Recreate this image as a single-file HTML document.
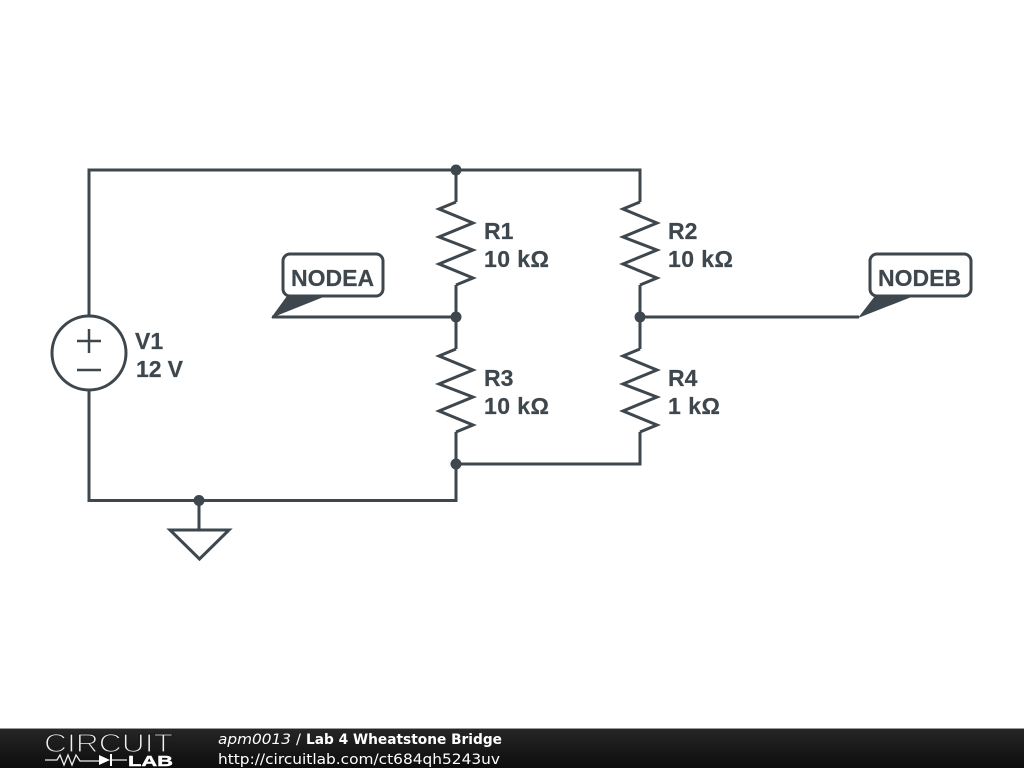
<!DOCTYPE html>
<html><head><meta charset="utf-8"><style>
html,body{margin:0;padding:0;background:#fff;width:1024px;height:768px;overflow:hidden}
svg{display:block}
.w{fill:none;stroke:#3d474d;stroke-width:3;stroke-linejoin:miter;stroke-linecap:butt}
.t{font:bold 23px "Liberation Sans",sans-serif;fill:#3d474d;stroke:#3d474d;stroke-width:.2}
.f{font:14.6px "DejaVu Sans",sans-serif;fill:#fff}
</style></head><body>
<svg width="1024" height="768" viewBox="0 0 1024 768" xmlns="http://www.w3.org/2000/svg">
<defs><linearGradient id="g" x1="0" y1="0" x2="0" y2="1"><stop offset="0" stop-color="#262626"/><stop offset="1" stop-color="#0c0c0c"/></linearGradient></defs>
<rect width="1024" height="768" fill="#fff"/>
<path class="w" d="M89 316V170H640V202M89 390V500.500H456V464M456 170V202M456 285V349M456 432V464H640V432M640 285V349M272 317H456M640 317H859M199 500V530"/>
<circle class="w" cx="89" cy="353" r="37"/>
<path class="w" style="stroke-width:2.5" d="M89 329V353M77 341H101M77 370H101"/>
<path class="w" d="M456 202L439 209L473 223L439 237L473 250L439 264L473 278L456 285"/>
<path class="w" d="M640 202L623 209L657 223L623 237L657 250L623 264L657 278L640 285"/>
<path class="w" d="M456 349L439 356L473 370L439 384L473 397L439 411L473 425L456 432"/>
<path class="w" d="M640 349L623 356L657 370L623 384L657 397L623 411L657 425L640 432"/>
<path class="w" stroke-linejoin="round" d="M170 530H229L199.500 559Z"/>
<g fill="#3d474d"><circle cx="456" cy="170" r="5.500"/><circle cx="456" cy="317" r="5.500"/><circle cx="640" cy="317" r="5.500"/><circle cx="456" cy="464" r="5.500"/><circle cx="199" cy="500.500" r="5.500"/>
<path d="M271 318L287 296H326ZM858 318L875 296H914Z"/></g>
<rect class="w" x="283" y="254" width="100" height="42" rx="7"/>
<rect class="w" x="870" y="254" width="101" height="42" rx="7"/>
<text class="t" x="291" y="286">NODEA</text>
<text class="t" x="878" y="286">NODEB</text>
<text class="t" x="484" y="239">R1</text><text class="t" x="484" y="267" textLength="65">10 kΩ</text>
<text class="t" x="668" y="239">R2</text><text class="t" x="668" y="267" textLength="65">10 kΩ</text>
<text class="t" x="484" y="386">R3</text><text class="t" x="484" y="414" textLength="65">10 kΩ</text>
<text class="t" x="668" y="386">R4</text><text class="t" x="668" y="414" textLength="52">1 kΩ</text>
<text class="t" x="135" y="349">V1</text><text class="t" x="136" y="377" textLength="47">12 V</text>
<rect y="728" width="1024" height="1" fill="#999"/>
<rect y="729" width="1024" height="39" fill="url(#g)"/>
<text x="44" y="752" font-family="Liberation Sans,sans-serif" font-size="26" fill="#f2f2f2" stroke="#1c1c1c" stroke-width="1.200" textLength="129" lengthAdjust="spacingAndGlyphs">CIRCUIT</text>
<path d="M45 760H57L60 755L64 765L68 755L72 765L76 755L80 761H99M112 760H127" fill="none" stroke="#eee" stroke-width="1.300"/>
<path d="M99 755V765L110 760ZM110 754H112V766H110Z" fill="#fff"/>
<text x="128" y="766" font-family="Liberation Sans,sans-serif" font-weight="bold" font-size="15" fill="#fff" stroke="#fff" stroke-width=".4" textLength="45" lengthAdjust="spacingAndGlyphs">LAB</text>
<text class="f" x="218" y="744" style="font-style:italic" textLength="73" lengthAdjust="spacingAndGlyphs">apm0013</text>
<text class="f" x="296" y="744">/</text>
<text class="f" x="306" y="744" style="font-weight:bold" textLength="196" lengthAdjust="spacingAndGlyphs">Lab 4 Wheatstone Bridge</text>
<text class="f" x="218" y="764" textLength="282" lengthAdjust="spacingAndGlyphs">http://circuitlab.com/ct684qh5243uv</text>
</svg>
</body></html>
